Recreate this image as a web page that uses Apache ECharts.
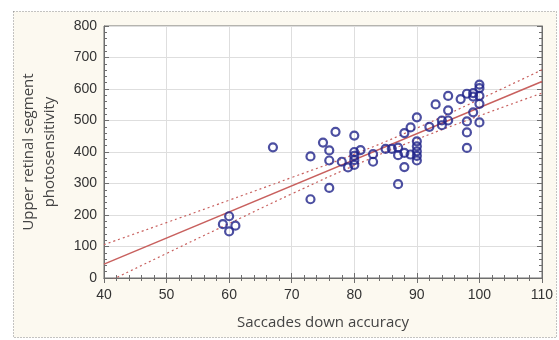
<!DOCTYPE html>
<html>
<head>
<meta charset="utf-8">
<script src="https://cdn.jsdelivr.net/npm/echarts@6/dist/echarts.min.js"></script>
<style>
html,body{margin:0;padding:0;background:#fff;}
#chart{width:559px;height:340px;}
</style>
</head>
<body>
<div id="chart"></div>
<script>
// Saccades down accuracy (x) vs upper retinal segment photosensitivity (y)
var accuracyX = [59,60,60,61,67,73,73,75,76,76,76,77,78,79,80,80,80,80,80,81,83,83,85,86,87,87,87,88,88,88,89,89,90,90,90,90,90,90,92,93,94,94,95,95,95,97,98,98,98,98,99,99,99,100,100,100,100,100];
var photosensY = [171,196,148,166,415,386,250,430,405,373,286,464,369,351,452,400,388,374,359,406,393,369,410,410,414,390,298,460,397,352,478,392,510,434,418,402,388,373,480,551,500,485,578,532,500,568,585,497,462,413,587,576,526,614,603,578,553,494];

// Regression line
var fitX = [40,110];
var fitY = [44,624];

// 95% confidence band
var bandX = [40,50,60,70,80,90,100,110];
var bandUpper = [106,176,247,319,393,476,567,661];
var bandLower = [-18,78,173,267,357,440,515,587];

var xTicks = {min:40,max:110,interval:10};
var yTicks = {min:0,max:800,interval:100};

function pairs(xs, ys){ return xs.map(function(x,i){ return [x, ys[i]]; }); }

var chart = echarts.init(document.getElementById('chart'), null, {renderer:'canvas'});
var lineCol = '#c8605e';
var axisCol = '#6e6e6e';
var tickFont = {color:'#333333', fontSize:14, fontFamily:'Liberation Sans, Arial, sans-serif'};

function baseAxis(extra){
  return Object.assign({
    axisLine:{show:true, lineStyle:{color:axisCol, width:1}},
    axisTick:{show:true, inside:true, length:5, lineStyle:{color:axisCol}},
    minorTick:{show:true, splitNumber:5, length:3, lineStyle:{color:axisCol}},
    splitLine:{show:false}
  }, extra);
}

chart.setOption({
  animation:false,
  backgroundColor:'#ffffff',
  graphic:[
    {type:'rect', z:-10, silent:true, shape:{x:13.5, y:11.5, width:543, height:326},
     style:{fill:'#fcf9f0', stroke:'#8a8a8a', lineWidth:1, lineDash:[1,2]}}
  ],
  grid:{left:104, right:17, top:26, bottom:62, show:true, backgroundColor:'#ffffff', borderColor:axisCol, borderWidth:1},
  xAxis:[
    baseAxis({type:'value', position:'bottom', min:xTicks.min, max:xTicks.max, interval:xTicks.interval,
      axisLabel:Object.assign({margin:10}, tickFont),
      splitLine:{show:true, lineStyle:{color:'#dedede'}},
      name:'Saccades down accuracy', nameLocation:'middle', nameGap:37,
      nameTextStyle:{color:'#444', fontSize:15, fontFamily:'Open Sans, sans-serif'}}),
    baseAxis({type:'value', position:'top', min:xTicks.min, max:xTicks.max, interval:xTicks.interval,
      axisLabel:{show:false}})
  ],
  yAxis:[
    baseAxis({type:'value', position:'left', min:yTicks.min, max:yTicks.max, interval:yTicks.interval,
      axisLabel:Object.assign({margin:7}, tickFont),
      splitLine:{show:true, lineStyle:{color:'#dedede'}},
      name:'Upper retinal segment\nphotosensitivity', nameLocation:'middle', nameGap:44, nameRotate:90,
      nameTextStyle:{color:'#444', fontSize:15, lineHeight:21, fontFamily:'Open Sans, sans-serif'}}),
    baseAxis({type:'value', position:'right', min:yTicks.min, max:yTicks.max, interval:yTicks.interval,
      axisLabel:{show:false}})
  ],
  series:[
    {type:'line', data:pairs(fitX, fitY), showSymbol:false, symbol:'none', clip:true,
     lineStyle:{color:lineCol, width:1.5}, z:3},
    {type:'line', data:pairs(bandX, bandUpper), smooth:true, symbol:'none', clip:true,
     lineStyle:{color:lineCol, width:1.2, type:[2,3]}, z:3},
    {type:'line', data:pairs(bandX, bandLower), smooth:true, symbol:'none', clip:true,
     lineStyle:{color:lineCol, width:1.2, type:[2,3]}, z:3},
    {type:'scatter', data:pairs(accuracyX, photosensY), symbol:'circle', symbolSize:8,
     itemStyle:{color:'rgba(255,255,255,0)', borderColor:'#1f238a', borderWidth:2.2}, z:4}
  ]
});
</script>
</body>
</html>
